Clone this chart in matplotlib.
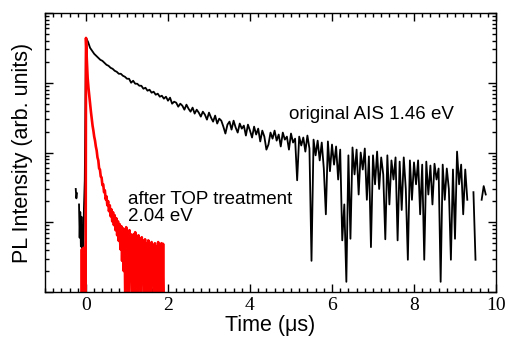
import numpy as np
import matplotlib
matplotlib.use("Agg")
import matplotlib.pyplot as plt
from matplotlib.ticker import MultipleLocator, LogLocator, NullFormatter

# ---- data (counts, log axis 1..1e4) ----
# original AIS, pre-trigger samples
black_pre_t = [-0.25, -0.235, -0.22, -0.19, -0.17, -0.155, -0.14, -0.125,
               -0.11, -0.095, -0.08, -0.065, -0.05, -0.03]
black_pre_v = [30, 22, 26, np.nan, 18, 6, 14, 4.5, 12, 4.2, 9, 4, 16, 40]

# original AIS, t = 0 .. 9.75 us, step 0.05 us
black_dt = 0.05
black_v = [
    4390, 3850, 3160, 2865, 2596, 2432, 2276, 2131, 2061, 1931,   # 0.0
    1808, 1749, 1638, 1585, 1484, 1436, 1345, 1345, 1259, 1218,   # 0.5
    1141, 1141, 1000, 1068, 968, 968, 906, 906, 821, 848,         # 1.0
    769, 794, 720, 744, 674, 697, 631, 652, 591, 631,             # 1.5
    553, 611, 501, 535, 518, 454, 501, 469, 411, 485,             # 2.0
    425, 385, 440, 361, 411, 373, 327, 385, 349, 296,             # 2.5
    373, 316, 277, 338, 260, 306, 286, 235, 187, 251,             # 3.0
    277, 213, 286, 228, 193, 260, 220, 243, 175, 251,             # 3.5
    206, 164, 235, 181, 220, 144, 206, 169, 110, 130,             # 4.0
    193, 158, 206, 148, 181, 122, 193, 153, 169, 110,             # 4.5
    187, 139, 158, 40, 169, 126, 164, 103, 175, 114,              # 5.0
    2.8, 153, 91, 148, 77, 139, 59, 13, 144, 54,                  # 5.5
    130, 67, 122, 41, 110, 5.5, 18, 1.4, 91, 5.8,                 # 6.0
    118, 48.5, 110, 25, 100, 57, 114, 21, 88, 4.4,                # 6.5
    91, 35, 103, 30, 85, 48.5, 5.7, 91, 18, 77,                   # 7.0
    41, 85, 5.5, 74, 15, 85, 30, 2.9, 77, 21,                     # 7.5
    72, 35, 77, 13, 67, 2.9, 74, 25, 65, 18,                      # 8.0
    69, 41, 59, 1.4, 67, 21, 59, 30, 2.9, 57,                     # 8.5
    5.8, 103, 35, 67, 13, 57, 21, np.nan, np.nan, 27,             # 9.0
    2.9, np.nan, np.nan, 21, 33, 25,                              # 9.5
]

# after TOP treatment, pre-trigger samples
red_pre_t = [-0.11, -0.10, -0.09, -0.08, -0.07, -0.06, -0.05, -0.04,
             -0.03, -0.02, -0.01]
red_pre_v = [0.5, 4.1, 0.5, 3.8, 0.5, 4.3, 0.5, 3.5, 0.5, 4.0, 0.5]

# after TOP treatment, t = 0 .. 1.90 us, step 0.02 us
red_dt = 0.02
red_v = [
    4390, 2131, 1179, 848, 652, 501, 385, 306, 243, 206,          # 0.00
    169, 148, 122, 107, 85, 77, 59, 57, 45, 44,                   # 0.20
    34, 35, 27, 28.6, 21.3, 23.5, 17.5, 20, 14.4, 17.5,           # 0.40
    12.2, 15.3, 10.3, 13.9, 9.1, 12.6, 7.7, 11.4, 6.5, 10.3,      # 0.60
    5.4, 9.4, 4.1, 8.8, 2.8, 8.2, 2.0, 7.9, 0.5, 8.5,             # 0.80
    3.2, 7.4, 0.5, 7.7, 2.1, 6.7, 0.5, 2.1, 6.7, 0.5,             # 1.00
    7.2, 1.3, 6.1, 0.5, 6.5, 2.5, 5.7, 0.5, 6.1, 1.5,             # 1.20
    5.4, 0.5, 5.7, 1.1, 4.9, 0.5, 5.5, 2.1, 4.7, 0.5,             # 1.40
    5.2, 1.3, 4.7, 0.5, 5.0, 1.8, 4.5, 0.5, 5.2, 1.1,             # 1.60
    4.7, 0.5, 5.0, 0.5, 4.9, 0.5,                                 # 1.80
]

black_t = np.concatenate([black_pre_t, np.arange(len(black_v)) * black_dt])
black_y = np.concatenate([black_pre_v, black_v])
red_t = np.concatenate([red_pre_t, np.arange(len(red_v)) * red_dt])
red_y = np.concatenate([red_pre_v, red_v])

SANS = ["Liberation Sans", "DejaVu Sans"]
SERIF = ["Liberation Serif", "DejaVu Serif"]

fig = plt.figure(figsize=(5.08, 3.38), dpi=100)
ax = fig.add_axes([45 / 508, 46 / 338, 451 / 508, 279 / 338])

ax.plot(black_t, black_y, color="black", lw=1.3)
ax.plot(red_t, red_y, color="#ff0000", lw=1.9)

ax.set_yscale("log")
ax.set_xlim(-1, 10)
ax.set_ylim(1, 1e4)

ax.xaxis.set_major_locator(MultipleLocator(2))
ax.xaxis.set_minor_locator(MultipleLocator(0.2))
ax.yaxis.set_major_locator(LogLocator(base=10))
ax.yaxis.set_minor_locator(LogLocator(base=10, subs=np.arange(2, 10)))
ax.yaxis.set_major_formatter(NullFormatter())
ax.yaxis.set_minor_formatter(NullFormatter())
ax.tick_params(which="both", direction="in", top=True, right=True, width=1)
ax.tick_params(which="major", length=6)
ax.tick_params(which="minor", length=3)
for lab in ax.get_xticklabels():
    lab.set_family(SERIF)
    lab.set_fontsize(14)
for sp in ax.spines.values():
    sp.set_linewidth(1.0)

ax.set_xlabel("Time (\u03bcs)", family=SANS, fontsize=15.5, labelpad=1)
ax.set_ylabel("PL Intensity (arb. units)", family=SANS, fontsize=15.5, labelpad=5)

ax.text(4.96, 350, "original AIS 1.46 eV", family=SANS, fontsize=13.5,
        va="center", ha="left")
ax.text(1.02, 16, "after TOP treatment\n2.04 eV", family=SANS, fontsize=13.5,
        va="center", ha="left", linespacing=1.05)

fig.savefig("out.png", dpi=100)
